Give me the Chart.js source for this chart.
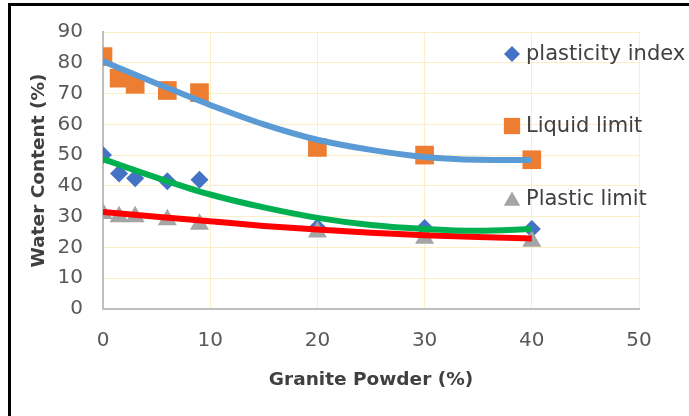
<!DOCTYPE html>
<html>
<head>
<meta charset="utf-8">
<script src="https://cdn.jsdelivr.net/npm/chart.js@4.4.0/dist/chart.umd.min.js"></script>
<style>
    html, body { margin: 0; padding: 0; background: #fff; }
    canvas { display: block; }
</style>
</head>
<body>
<canvas id="chart" width="689" height="416"></canvas>
<script>
// Atterberg limits vs granite powder content

const granitePowder = [0, 1.5, 3, 6, 9, 20, 30, 40];
const plasticityIndex = [50, 44, 42.5, 41.5, 42, 26.5, 26.3, 26];
const liquidLimit = [82, 75, 73, 71, 70.3, 52.5, 50, 48.5];
const plasticLimit = [31, 30, 30, 29, 27.5, 25, 23, 22];

// trendlines
const trendX = [0, 5, 10, 15, 20, 25, 30, 35, 40];
const liquidTrend = [80.5, 73.3, 66.3, 60, 55, 51.7, 49.4, 48.5, 48.4];
const plasticityTrend = [48.7, 42.7, 37.2, 33, 29.6, 27.3, 26, 25.4, 26];
const plasticTrend = [31.5, 30, 28.5, 27, 25.8, 24.8, 24, 23.4, 22.9];

const seriesNames = ['plasticity index', 'Liquid limit', 'Plastic limit'];
const xTicks = [0, 10, 20, 30, 40, 50];
const yTicks = [0, 10, 20, 30, 40, 50, 60, 70, 80, 90];

const FONT = "'DejaVu Sans', sans-serif";

function toPoints(xs, ys) {
    return xs.map((x, i) => ({ x: x, y: ys[i] }));
}

// black frame around the figure
const framePlugin = {
    id: 'frame',
    beforeDraw: function (chart) {
        const ctx = chart.ctx;
        ctx.save();
        ctx.fillStyle = '#fff';
        ctx.fillRect(0, 0, chart.width, chart.height);
        ctx.strokeStyle = '#000';
        ctx.lineWidth = 3;
        ctx.strokeRect(9.5, 4.5, 1000, 1000);
        ctx.restore();
    }
};

// legend sits inside the plot, on the right
const sideLegend = {
    id: 'sideLegend',
    afterDraw: function (chart) {
        const ctx = chart.ctx;
        const rows = [55, 127, 200];
        const radii = [8, 11.5, 9.5];
        ctx.save();
        seriesNames.forEach((name, i) => {
            const ds = chart.data.datasets[i];
            ctx.fillStyle = ds.backgroundColor;
            Chart.helpers.drawPoint(ctx, {
                pointStyle: ds.pointStyle,
                radius: radii[i],
                rotation: 0,
                borderWidth: 0
            }, 512, rows[i] - (i === 2 ? -1 : 1));
            ctx.fillStyle = '#404040';
            ctx.font = '21px ' + FONT;
            ctx.textBaseline = 'middle';
            ctx.textAlign = 'left';
            ctx.fillText(name, 526, rows[i]);
        });
        ctx.restore();
    }
};

const trendStyle = {
    type: 'line',
    showLine: true,
    borderWidth: 6,
    pointRadius: 0,
    cubicInterpolationMode: 'monotone',
    fill: false,
    order: 0
};

new Chart(document.getElementById('chart'), {
    type: 'scatter',
    data: {
        datasets: [
            {
                label: seriesNames[0],
                data: toPoints(granitePowder, plasticityIndex),
                pointStyle: 'rectRot',
                pointRadius: 9,
                backgroundColor: '#4472C4',
                borderWidth: 0,
                order: 3
            },
            {
                label: seriesNames[1],
                data: toPoints(granitePowder, liquidLimit),
                pointStyle: 'rect',
                pointRadius: 13.2,
                backgroundColor: '#ED7D31',
                borderWidth: 0,
                order: 2
            },
            {
                label: seriesNames[2],
                data: toPoints(granitePowder, plasticLimit),
                pointStyle: 'triangle',
                pointRadius: 11,
                backgroundColor: '#A5A5A5',
                borderWidth: 0,
                order: 1
            },
            Object.assign({ data: toPoints(trendX, liquidTrend), borderColor: '#5B9BD5' }, trendStyle),
            Object.assign({ data: toPoints(trendX, plasticityTrend), borderColor: '#00B050' }, trendStyle),
            Object.assign({ data: toPoints(trendX, plasticTrend), borderColor: '#FF0000' }, trendStyle)
        ]
    },
    options: {
        responsive: false,
        animation: false,
        layout: {
            padding: { top: 32, right: 50, left: 0, bottom: 0 }
        },
        plugins: {
            legend: { display: false },
            tooltip: { enabled: false }
        },
        scales: {
            x: {
                type: 'linear',
                min: xTicks[0],
                max: xTicks[xTicks.length - 1],
                afterBuildTicks: function (scale) {
                    scale.ticks = xTicks.map(v => ({ value: v }));
                },
                afterFit: function (scale) {
                    scale.height = 416 - 309;
                },
                grid: {
                    color: '#FCEFC8',
                    lineWidth: 1,
                    drawTicks: false
                },
                border: { color: '#BFBFBF', width: 2 },
                ticks: {
                    color: '#595959',
                    padding: 20,
                    font: { family: FONT, size: 20 }
                },
                title: {
                    display: true,
                    text: 'Granite Powder (%)',
                    color: '#404040',
                    font: { family: FONT, size: 18.5, weight: 'bold' },
                    padding: { top: 0, bottom: 25 }
                }
            },
            y: {
                type: 'linear',
                min: yTicks[0],
                max: yTicks[yTicks.length - 1],
                afterBuildTicks: function (scale) {
                    scale.ticks = yTicks.map(v => ({ value: v }));
                },
                afterFit: function (scale) {
                    scale.width = 103;
                },
                grid: {
                    color: '#FCEFC8',
                    lineWidth: 1,
                    drawTicks: false
                },
                border: { color: '#BFBFBF', width: 2 },
                ticks: {
                    color: '#595959',
                    padding: 20,
                    font: { family: FONT, size: 20 }
                },
                title: {
                    display: true,
                    text: 'Water Content (%)',
                    color: '#404040',
                    font: { family: FONT, size: 18.5, weight: 'bold' },
                    padding: { top: 28, bottom: 0 }
                }
            }
        }
    },
    plugins: [framePlugin, sideLegend]
});
</script>
</body>
</html>
